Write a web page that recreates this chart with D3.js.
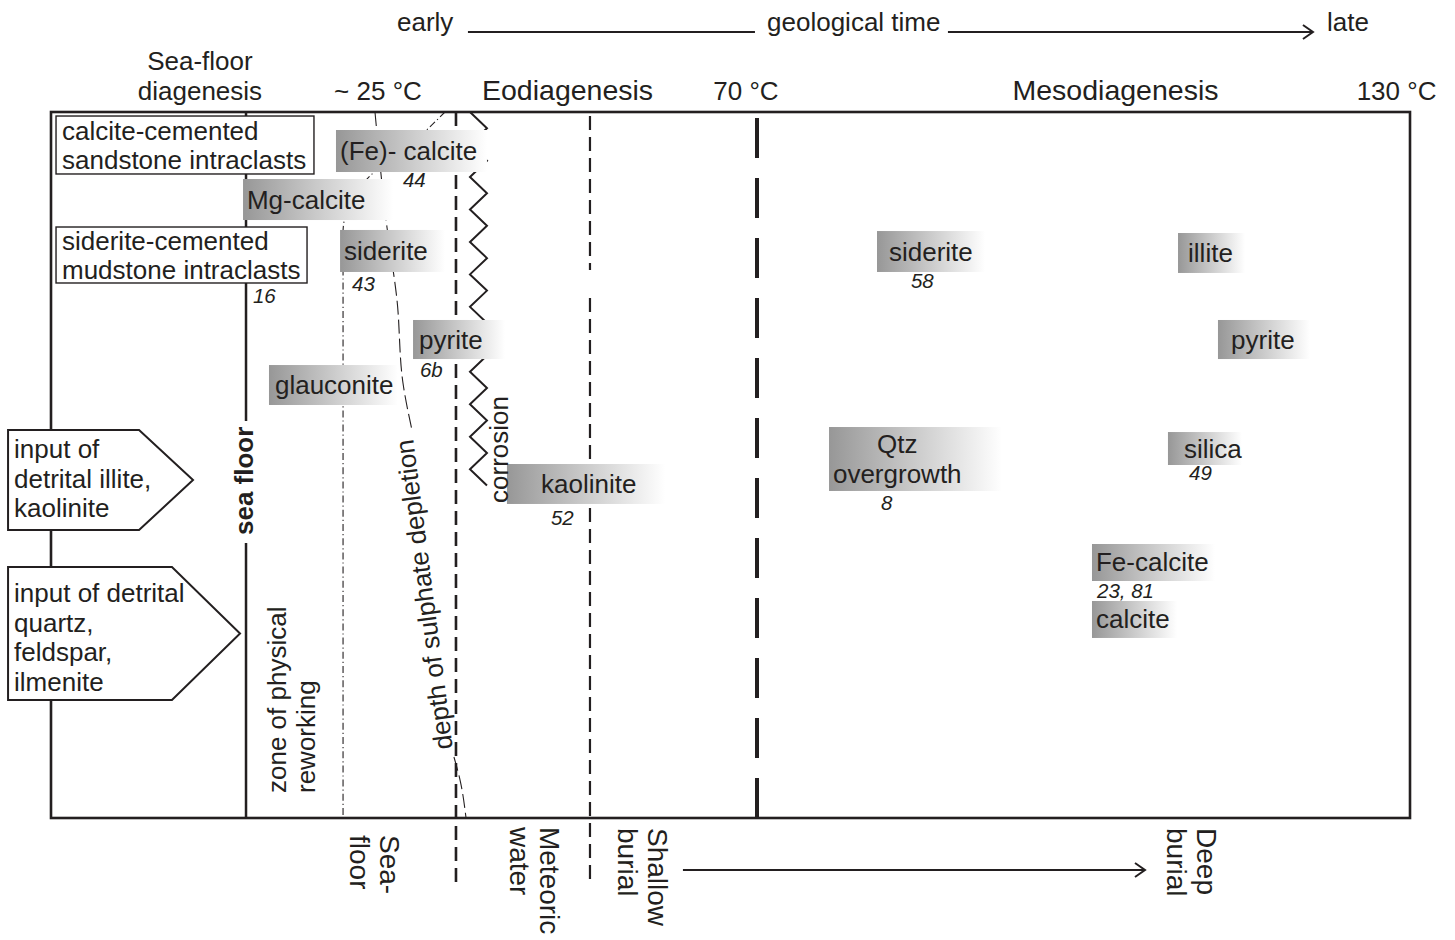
<!DOCTYPE html>
<html><head><meta charset="utf-8">
<script src="https://cdn.jsdelivr.net/npm/d3@7"></script>
<style>
body{margin:0;background:#fff}
text{font-family:"Liberation Sans",Arial,Helvetica,sans-serif;fill:#231f20}
</style>
</head><body>
<svg id="c" width="1455" height="940"></svg>
<script>
// ---- data (diagram units: x = relative geological time 0-100, y = relative position 0-100 within frame) ----
const headerLabels = ["early", "geological time", "late"];
const headerX = [25.46, 52.69, 93.89];
const timeLineStart = [30.68, 66.00];
const timeLineEnd = [51.80, 92.86];

const stageLabels = ["Sea-floor|diagenesis", "~ 25 °C", "Eodiagenesis", "70 °C", "Mesodiagenesis", "130 °C"];
const stageX = [10.96, 24.06, 38.01, 51.14, 78.33, 99.01];

const phaseLabels = ["(Fe)- calcite", "Mg-calcite", "siderite", "pyrite", "glauconite", "kaolinite",
  "siderite", "illite", "pyrite", "Qtz|overgrowth", "silica", "Fe-calcite", "calcite"];
const phaseStart = [20.97, 14.13, 21.27, 26.64, 16.04, 33.55, 60.78, 82.93, 85.87, 57.25, 82.19, 76.60, 76.60];
const phaseEnd   = [32.08, 25.17, 28.99, 33.41, 25.53, 45.18, 68.73, 87.86, 92.64, 69.98, 87.64, 85.65, 82.86];
const phaseTop   = [2.55, 9.49, 16.71, 29.46, 35.84, 49.86, 16.86, 17.14, 29.46, 44.62, 45.33, 61.19, 69.26];
const phaseBottom= [8.50, 15.30, 22.66, 34.99, 41.50, 55.52, 22.66, 22.80, 34.99, 53.68, 50.00, 66.43, 74.50];
const phaseLabelX= [21.27, 14.42, 21.56, 27.08, 16.48, 36.06, 61.66, 83.67, 86.83, 57.54, 83.37, 76.89, 76.89];

const refLabels = ["44", "43", "16", "6b", "52", "58", "8", "49", "23, 81"];
const refX = [25.90, 22.15, 14.86, 27.15, 36.79, 63.28, 61.07, 83.74, 76.97];
const refY = [10.62, 25.35, 27.05, 37.54, 58.50, 24.93, 56.37, 52.12, 68.84];

const clastLabels = ["calcite-cemented|sandstone intraclasts", "siderite-cemented|mudstone intraclasts"];
const clastStart = [0.37, 0.37];
const clastEnd = [19.35, 18.84];
const clastTop = [0.57, 16.29];
const clastBottom = [8.78, 24.22];
const clastTextX = [0.81, 0.81];

const inputLabels = ["input of|detrital illite,|kaolinite", "input of detrital|quartz,|feldspar,|ilmenite"];
const inputStart = [-3.16, -3.16];
const inputShoulder = [6.48, 8.90];
const inputTip = [10.45, 13.91];
const inputTop = [45.04, 64.45];
const inputBottom = [59.21, 83.29];
const inputTextX = [-2.72, -2.72];
const inputTextY = [49.01, 69.41];

const seaFloorX = 14.35;
const seaFloorGap = [43.77, 61.05];

const reworkX = [28.99, 26.42, 23.47, 22.15, 21.49, 21.49];
const reworkY = [0, 4.67, 9.07, 12.46, 17.0, 100];

const sulphUpperX = [23.84, 24.72, 25.46, 25.90, 26.56];
const sulphUpperY = [0, 16.29, 26.63, 38.39, 45.04];
const sulphLowerX = [29.65, 30.10, 30.54];
const sulphLowerY = [91.36, 94.62, 100];

const corrosionX = [30.83, 32.08];
const corrosionY = [0, 52.94];
const corrosionPeriod = 4.60;

const boundaryX = [29.80, 39.66, 39.66, 51.95];
const boundaryStart = [0, 0, 26.35, 0];
const boundaryEnd = [109.49, 22.38, 108.78, 100];

const verticalLabels = ["sea floor", "zone of physical|reworking", "corrosion"];
const verticalX = [14.86, 17.29, 33.63];
const verticalY = [59.92, 96.46, 55.38];

const zoneLabels = ["Sea-|floor", "Meteoric|water", "Shallow|burial", "Deep|burial"];
const zoneX = [24.21, 35.98, 43.93, 84.33];
const zoneY = [102.41, 101.27, 101.42, 101.42];
const burialArrowX = [46.50, 80.50];
const burialArrowY = 107.37;

// ---- rendering ----
const ink = "#231f20";
const svg = d3.select("#c");
const x = d3.scaleLinear().domain([0, 100]).range([51, 1410]);
const y = d3.scaleLinear().domain([0, 100]).range([112, 818]);

const defs = svg.append("defs");
const grad = defs.append("linearGradient").attr("id", "fade").attr("x1", 0).attr("x2", 1).attr("y1", 0).attr("y2", 0);
grad.append("stop").attr("offset", "0%").attr("stop-color", "#979797");
grad.append("stop").attr("offset", "100%").attr("stop-color", "#ffffff");

function addLines(t, lines, xp, lh) {
  lines.forEach((l, i) => t.append("tspan").attr("x", xp).attr("dy", i ? lh : 0).text(l));
}
function chevron(g, tx, ty) {
  g.append("path").attr("d", `M${tx - 10},${ty - 7}L${tx},${ty}L${tx - 10},${ty + 7}`)
    .attr("fill", "none").attr("stroke", ink).attr("stroke-width", 2);
}

// header
const hdr = svg.append("g");
hdr.selectAll("text").data(headerLabels).join("text")
  .attr("x", (d, i) => x(headerX[i])).attr("y", y(-11.47)).attr("font-size", 26).text(d => d);
timeLineStart.forEach((s, i) => {
  hdr.append("line").attr("x1", x(s)).attr("x2", x(timeLineEnd[i])).attr("y1", y(-11.33)).attr("y2", y(-11.33))
    .attr("stroke", ink).attr("stroke-width", 2);
  if (i === 1) chevron(hdr, x(timeLineEnd[i]), y(-11.33));
});
const emphasized = new Set(["Eodiagenesis", "Mesodiagenesis"]);
stageLabels.forEach((s, i) => {
  const lines = s.split("|");
  const t = hdr.append("text").attr("text-anchor", "middle")
    .attr("font-size", emphasized.has(s) ? 28.5 : 26)
    .attr("y", y(-1.70) - (lines.length - 1) * 30);
  addLines(t, lines, x(stageX[i]), 30);
});

// frame
svg.append("rect").attr("x", x(0)).attr("y", y(0)).attr("width", x(100) - x(0)).attr("height", y(100) - y(0))
  .attr("fill", "none").attr("stroke", ink).attr("stroke-width", 2.6);

// lines
const gl = svg.append("g").attr("fill", "none").attr("stroke", ink);
[[0, seaFloorGap[0]], [seaFloorGap[1], 100]].forEach(([a, b]) =>
  gl.append("line").attr("x1", x(seaFloorX)).attr("x2", x(seaFloorX)).attr("y1", y(a)).attr("y2", y(b)).attr("stroke-width", 2.5));

const lineGen = d3.line().x(d => x(d[0])).y(d => y(d[1])).curve(d3.curveMonotoneY);
gl.append("path").attr("d", lineGen(reworkX.map((v, i) => [v, reworkY[i]])))
  .attr("stroke-width", 1.1).attr("stroke-dasharray", "7,3,1.2,3");
const upper = sulphUpperX.map((v, i) => [v, sulphUpperY[i]]);
const lower = sulphLowerX.map((v, i) => [v, sulphLowerY[i]]);
gl.append("path").attr("d", lineGen(upper)).attr("stroke-width", 1.1).attr("stroke-dasharray", "14,5");
gl.append("path").attr("d", lineGen(lower)).attr("stroke-width", 1.1).attr("stroke-dasharray", "14,5");

const bStyles = [{w: 2.6, dash: "14,7", off: 0}, {w: 2.2, dash: "14,7", off: -4}, {w: 2.2, dash: "14,7", off: 0}, {w: 4, dash: "40,20", off: -6}];
boundaryX.forEach((bx, i) => {
  gl.append("line").attr("x1", x(bx)).attr("x2", x(bx)).attr("y1", y(boundaryStart[i])).attr("y2", y(boundaryEnd[i]))
    .attr("stroke-width", bStyles[i].w).attr("stroke-dasharray", bStyles[i].dash).attr("stroke-dashoffset", bStyles[i].off);
});

// corrosion zigzag
const zz = [];
let k = 0;
for (let v = corrosionY[0]; v <= corrosionY[1] + 1e-6; v += corrosionPeriod / 2, k++) zz.push([corrosionX[k % 2], v]);
gl.append("path").attr("d", d3.line().x(d => x(d[0])).y(d => y(d[1]))(zz)).attr("stroke-width", 2);

// bottom burial arrow
gl.append("line").attr("x1", x(burialArrowX[0])).attr("x2", x(burialArrowX[1])).attr("y1", y(burialArrowY)).attr("y2", y(burialArrowY))
  .attr("stroke-width", 2);
chevron(svg, x(burialArrowX[1]), y(burialArrowY));

// phase boxes
const phases = phaseLabels.map((label, i) => ({lines: label.split("|"), x0: phaseStart[i], x1: phaseEnd[i], y0: phaseTop[i], y1: phaseBottom[i], lx: phaseLabelX[i]}));
const gp = svg.append("g");
gp.selectAll("rect").data(phases).join("rect")
  .attr("x", d => x(d.x0)).attr("y", d => y(d.y0))
  .attr("width", d => x(d.x1) - x(d.x0)).attr("height", d => y(d.y1) - y(d.y0))
  .attr("fill", "url(#fade)");

// intraclast boxes
const clasts = clastLabels.map((l, i) => ({lines: l.split("|"), x0: clastStart[i], x1: clastEnd[i], y0: clastTop[i], y1: clastBottom[i], tx: clastTextX[i]}));
const gc = svg.append("g");
gc.selectAll("rect").data(clasts).join("rect")
  .attr("x", d => x(d.x0)).attr("y", d => y(d.y0))
  .attr("width", d => x(d.x1) - x(d.x0)).attr("height", d => y(d.y1) - y(d.y0))
  .attr("fill", "#fff").attr("stroke", ink).attr("stroke-width", 1.4);
gc.selectAll("text").data(clasts).join("text").attr("font-size", 26).each(function (d) {
  const mid = (y(d.y0) + y(d.y1)) / 2;
  const t = d3.select(this).attr("y", mid - (d.lines.length - 1) * 14.5 + 9);
  addLines(t, d.lines, x(d.tx), 29);
});

// input pentagons
const inputs = inputLabels.map((l, i) => ({lines: l.split("|"), i}));
const gi = svg.append("g");
gi.selectAll("path").data(inputs).join("path").attr("d", d => {
  const i = d.i, mid = (y(inputTop[i]) + y(inputBottom[i])) / 2;
  return d3.line()([[x(inputStart[i]), y(inputTop[i])], [x(inputShoulder[i]), y(inputTop[i])], [x(inputTip[i]), mid],
    [x(inputShoulder[i]), y(inputBottom[i])], [x(inputStart[i]), y(inputBottom[i])]]) + "Z";
}).attr("fill", "#fff").attr("stroke", ink).attr("stroke-width", 2);
gi.selectAll("text").data(inputs).join("text").attr("font-size", 26).each(function (d) {
  const t = d3.select(this).attr("y", y(inputTextY[d.i]));
  addLines(t, d.lines, x(inputTextX[d.i]), 29.7);
});

// phase labels
gp.selectAll("text").data(phases).join("text").attr("font-size", 26).each(function (d) {
  const mid = (y(d.y0) + y(d.y1)) / 2, n = d.lines.length;
  const t = d3.select(this).attr("y", mid - (n - 1) * 15 + 9);
  addLines(t, d.lines, x(d.lx), 30);
  if (n > 1) {
    const ts = t.selectAll("tspan").nodes();
    const ws = ts.map(e => e.getComputedTextLength());
    const m = Math.max(...ws);
    ts.forEach((e, j) => d3.select(e).attr("x", x(d.lx) + (m - ws[j]) / 2));
  }
});

// reference numbers
svg.append("g").selectAll("text").data(refLabels).join("text")
  .attr("x", (d, i) => x(refX[i])).attr("y", (d, i) => y(refY[i]))
  .attr("font-size", 20.5).attr("font-style", "italic").text(d => d);

// vertical (rotated -90) labels
verticalLabels.forEach((s, i) => {
  const g = svg.append("g").attr("transform", `translate(${x(verticalX[i])},${y(verticalY[i])}) rotate(-90)`);
  const t = g.append("text").attr("font-size", 26).attr("font-weight", i === 0 ? "bold" : "normal");
  addLines(t, s.split("|"), 0, 29);
});

// sulphate depletion label along line
{
  const a = upper[upper.length - 1], b = lower[0];
  const ax = x(a[0]), ay = y(a[1]), bx = x(b[0]), by = y(b[1]);
  const ang = Math.atan2(ay - by, ax - bx) * 180 / Math.PI;
  svg.append("text").attr("transform", `translate(${(ax + bx) / 2},${(ay + by) / 2}) rotate(${ang})`)
    .attr("text-anchor", "middle").attr("font-size", 26).text("depth of sulphate depletion");
}

// bottom zone labels (rotated 90)
zoneLabels.forEach((s, i) => {
  const g = svg.append("g").attr("transform", `translate(${x(zoneX[i])},${y(zoneY[i])}) rotate(90)`);
  const t = g.append("text").attr("font-size", 28);
  addLines(t, s.split("|"), 0, 30);
});
</script>
</body></html>
